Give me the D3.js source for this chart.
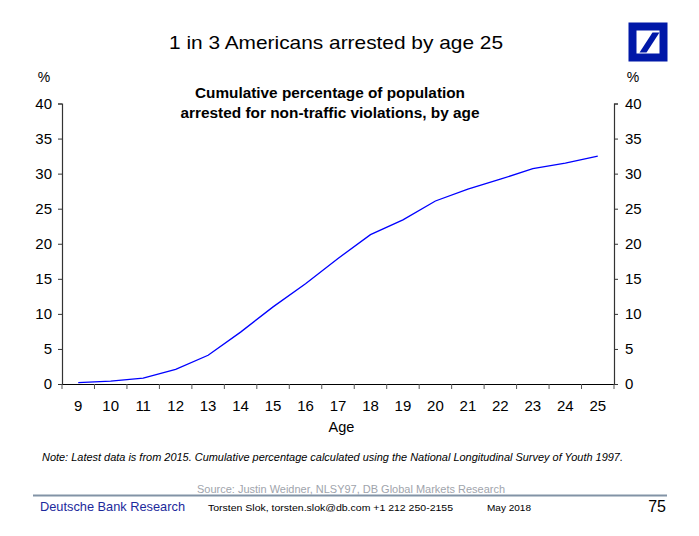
<!DOCTYPE html>
<html><head><meta charset="utf-8">
<script src="https://cdn.jsdelivr.net/npm/d3@7"></script>
<style>body{margin:0;background:#fff}svg{display:block;font-family:"Liberation Sans",Arial,sans-serif}</style>
</head><body><svg id="c" width="699" height="536"></svg>
<script>
const ages = [9,10,11,12,13,14,15,16,17,18,19,20,21,22,23,24,25];
const pctArrested = [0.2,0.4,0.85,2.1,4.1,7.4,11.0,14.3,17.9,21.3,23.4,26.1,27.8,29.2,30.7,31.5,32.5];
const yTicks = [0,5,10,15,20,25,30,35,40];

const svg = d3.select("#c");
const L = 62, R = 614, T = 103.5, B = 384;
const x = d3.scaleBand().domain(ages).range([L, R]).padding(0);
const y = d3.scaleLinear().domain([0, 40]).range([B, T]);

function txt(xp, yp, size, str, opts = {}) {
  const t = svg.append("text").attr("x", xp).attr("y", yp).attr("font-size", size)
    .attr("fill", opts.fill || "#000").attr("text-anchor", opts.anchor || "start").text(str);
  if (opts.bold) t.attr("font-weight", "bold");
  if (opts.italic) t.attr("font-style", "italic");
  if (opts.len) t.attr("textLength", opts.len).attr("lengthAdjust", "spacingAndGlyphs");
  return t;
}

// title
txt(336, 48.5, 18.5, "1 in 3 Americans arrested by age 25", {anchor: "middle", len: 334});
txt(330, 98, 14, "Cumulative percentage of population", {anchor: "middle", bold: true, len: 270});
txt(330, 117.5, 14, "arrested for non-traffic violations, by age", {anchor: "middle", bold: true, len: 299});

// logo
const lg = svg.append("g");
lg.append("rect").attr("x", 628.5).attr("y", 22.5).attr("width", 39).attr("height", 39).attr("fill", "#0018a8");
lg.append("rect").attr("x", 636.5).attr("y", 30.5).attr("width", 23).attr("height", 23).attr("fill", "#fff");
lg.append("path").attr("d", "M639.5,52.5 L646.5,52.5 L659.5,32.5 L652.5,32.5 Z").attr("fill", "#0018a8");

// axes
const axL = svg.append("g").attr("transform", `translate(${L},0)`)
  .call(d3.axisLeft(y).tickValues(yTicks).tickSize(4).tickPadding(6));
const axR = svg.append("g").attr("transform", `translate(${R},0)`)
  .call(d3.axisRight(y).tickValues(yTicks).tickSize(4).tickPadding(7));
[axL, axR].forEach(a => {
  a.select(".domain").attr("stroke", "#333").attr("stroke-width", 1.2);
  a.selectAll(".tick line").attr("stroke", "#333");
  a.selectAll("text").attr("font-size", 15).attr("fill", "#000").attr("font-family", "Liberation Sans, Arial, sans-serif");
});
const axB = svg.append("g").attr("transform", `translate(0,${B})`)
  .call(d3.axisBottom(x).tickSize(0).tickPadding(16));
axB.select(".domain").attr("stroke", "#000").attr("stroke-width", 1.2);
axB.selectAll("text").attr("font-size", 15).attr("fill", "#000").attr("font-family", "Liberation Sans, Arial, sans-serif");
// boundary ticks
const bounds = ages.map(a => x(a)).concat([x(ages[ages.length-1]) + x.bandwidth()]);
svg.append("g").selectAll("line").data(bounds).join("line")
  .attr("x1", d => d).attr("x2", d => d).attr("y1", B).attr("y2", B + 5)
  .attr("stroke", "#555").attr("stroke-width", 1);

txt(44, 82, 14, "%", {anchor: "middle"});
txt(633, 82, 14, "%", {anchor: "middle"});
txt(341.5, 432, 14.5, "Age", {anchor: "middle"});

// line
const line = d3.line().x((d, i) => x(ages[i]) + x.bandwidth() / 2).y(d => y(d));
svg.append("path").datum(pctArrested).attr("d", line).attr("fill", "none")
  .attr("stroke", "#0000ff").attr("stroke-width", 1.3);

// note
txt(42, 461, 10, "Note: Latest data is from 2015. Cumulative percentage calculated using the National Longitudinal Survey of Youth 1997.", {italic: true, len: 581});

// footer
txt(351, 493, 10.5, "Source: Justin Weidner, NLSY97, DB Global Markets Research", {anchor: "middle", fill: "#a0a4ac", len: 308});
svg.append("line").attr("x1", 33).attr("x2", 667).attr("y1", 495.5).attr("y2", 495.5).attr("stroke", "#8293a6").attr("stroke-width", 2);
txt(40, 511, 13, "Deutsche Bank Research", {fill: "#1c2a9c", len: 145});
txt(208, 511, 9.5, "Torsten Slok, torsten.slok@db.com  +1 212 250-2155", {len: 245});
txt(487, 511, 9.5, "May 2018", {len: 44});
txt(666, 512, 16, "75", {anchor: "end"});
</script></body></html>
